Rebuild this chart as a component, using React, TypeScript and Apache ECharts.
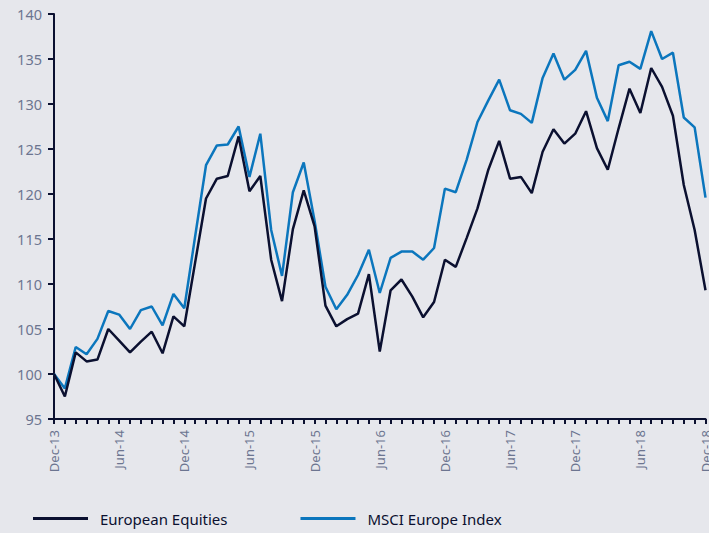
import React, { useEffect, useRef } from "react";
import * as echarts from "echarts";

const categories = [
  "Dec-13","Jan-14","Feb-14","Mar-14","Apr-14","May-14","Jun-14","Jul-14","Aug-14","Sep-14","Oct-14","Nov-14",
  "Dec-14","Jan-15","Feb-15","Mar-15","Apr-15","May-15","Jun-15","Jul-15","Aug-15","Sep-15","Oct-15","Nov-15",
  "Dec-15","Jan-16","Feb-16","Mar-16","Apr-16","May-16","Jun-16","Jul-16","Aug-16","Sep-16","Oct-16","Nov-16",
  "Dec-16","Jan-17","Feb-17","Mar-17","Apr-17","May-17","Jun-17","Jul-17","Aug-17","Sep-17","Oct-17","Nov-17",
  "Dec-17","Jan-18","Feb-18","Mar-18","Apr-18","May-18","Jun-18","Jul-18","Aug-18","Sep-18","Oct-18","Nov-18",
  "Dec-18",
];

const europeanEquities = [
  100, 97.5, 102.4, 101.4, 101.6, 105.0, 103.7, 102.4, 103.6, 104.7, 102.3, 106.4,
  105.3, 112.4, 119.5, 121.7, 122.0, 126.4, 120.3, 122.0, 112.7, 108.1, 116.1, 120.4,
  116.4, 107.6, 105.3, 106.1, 106.7, 111.1, 102.5, 109.3, 110.5, 108.6, 106.3, 108.0,
  112.7, 111.9, 115.1, 118.4, 122.7, 125.9, 121.7, 121.9, 120.1, 124.7, 127.2, 125.6,
  126.7, 129.2, 125.1, 122.7, 127.3, 131.7, 129.0, 134.0, 131.9, 128.7, 121.0, 116.0,
  109.3,
];

const msciEurope = [
  100, 98.4, 103.0, 102.2, 103.9, 107.0, 106.6, 105.0, 107.1, 107.5, 105.4, 108.9,
  107.3, 115.3, 123.2, 125.4, 125.5, 127.5, 121.9, 126.7, 116.0, 110.9, 120.2, 123.5,
  117.0, 109.7, 107.2, 108.8, 111.0, 113.8, 109.0, 112.9, 113.6, 113.6, 112.7, 114.0,
  120.6, 120.2, 123.8, 128.0, 130.4, 132.7, 129.3, 128.9, 127.9, 132.9, 135.6, 132.7,
  133.8, 135.9, 130.7, 128.1, 134.3, 134.7, 133.9, 138.1, 135.0, 135.7, 128.5, 127.4,
  119.6,
];

const seriesNames = ["European Equities", "MSCI Europe Index"];

const BG = "#e6e7ec";
const NAVY = "#0b1030";
const BLUE = "#0b76bd";
const LABEL = "#6c7590";
const FONT = "'Noto Sans', 'Open Sans', sans-serif";

export default function App() {
  const ref = useRef<HTMLDivElement>(null);

  useEffect(() => {
    document.body.style.margin = "0";
    document.body.style.background = BG;
    document.body.style.overflow = "hidden";
    const chart = echarts.init(ref.current!, undefined, { renderer: "svg" });
    chart.setOption({
      animation: false,
      backgroundColor: BG,
      grid: { left: 54, right: 1, top: 14, bottom: 114, containLabel: false },
      legend: {
        top: 511,
        left: 33,
        padding: 0,
        itemWidth: 55,
        itemHeight: 3,
        itemGap: 73,
        icon: "rect",
        textStyle: { color: NAVY, fontSize: 15, fontFamily: FONT, padding: [0, 0, 0, 7] },
        data: seriesNames,
      },
      xAxis: {
        type: "category",
        data: categories,
        boundaryGap: false,
        axisLine: { show: true, lineStyle: { color: NAVY, width: 2 } },
        axisTick: { show: true, interval: 0, length: 5, lineStyle: { color: NAVY, width: 2 } },
        axisLabel: {
          interval: 5,
          rotate: 90,
          margin: 11,
          color: LABEL,
          fontSize: 13,
          fontFamily: FONT,
        },
        splitLine: { show: false },
      },
      yAxis: {
        type: "value",
        min: 95,
        max: 140,
        interval: 5,
        axisLine: { show: true, lineStyle: { color: NAVY, width: 2 } },
        axisTick: { show: true, length: 6, lineStyle: { color: NAVY, width: 2 } },
        axisLabel: { color: LABEL, fontSize: 14.5, fontFamily: FONT, margin: 12 },
        splitLine: { show: false },
      },
      series: [
        {
          name: seriesNames[0],
          type: "line",
          data: europeanEquities,
          showSymbol: false,
          lineStyle: { color: NAVY, width: 2.5 },
          itemStyle: { color: NAVY },
          z: 3,
        },
        {
          name: seriesNames[1],
          type: "line",
          data: msciEurope,
          showSymbol: false,
          lineStyle: { color: BLUE, width: 2.5 },
          itemStyle: { color: BLUE },
          z: 2,
        },
      ],
    });
    return () => chart.dispose();
  }, []);

  return (
    <div
      ref={ref}
      style={{ position: "fixed", left: 0, top: 0, width: 712, height: 533, background: BG }}
    />
  );
}
